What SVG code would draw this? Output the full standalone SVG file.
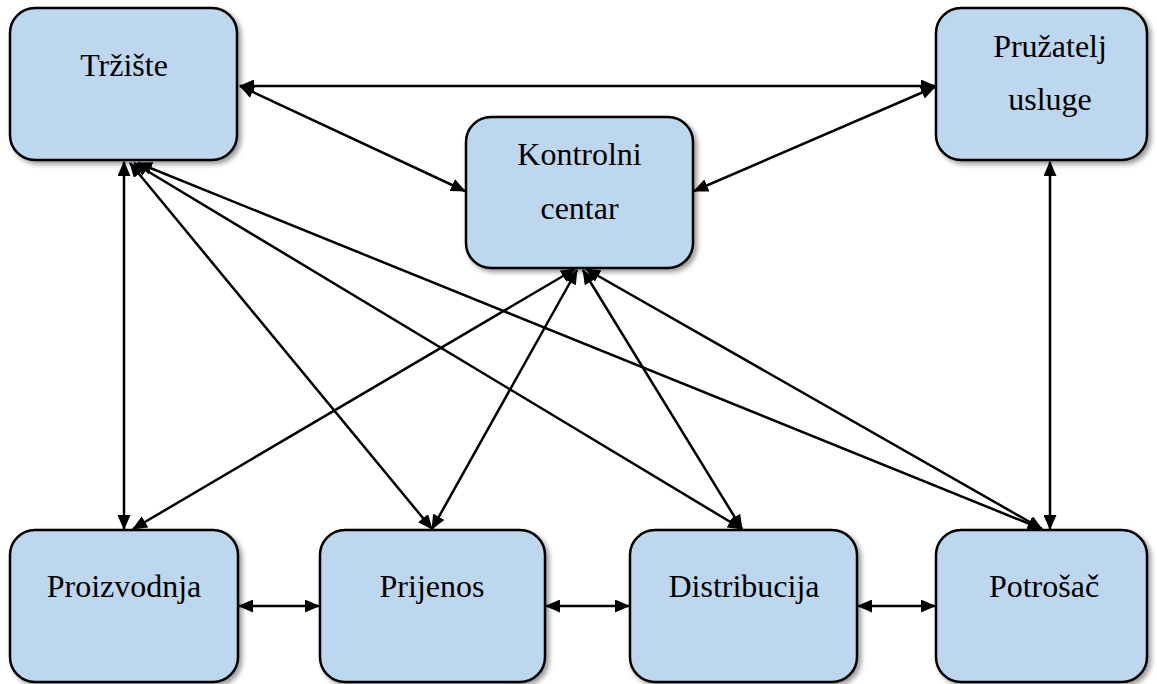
<svg xmlns="http://www.w3.org/2000/svg" width="1157" height="684" viewBox="0 0 1157 684">
  <style>
    .box { fill: #BDD7EE; stroke: #000; stroke-width: 2.5; filter: url(#shadow); }
    .lbl { font-family: "Liberation Serif", "Times New Roman", serif; font-size: 32px; fill: #000; text-anchor: middle; }
    .conn line { stroke: #000; stroke-width: 2.5; marker-start: url(#arr); marker-end: url(#arr); }
  </style>
  <defs>
    <filter id="shadow" x="-10%" y="-10%" width="130%" height="130%">
      <feDropShadow dx="3" dy="3" stdDeviation="2.5" flood-color="#000" flood-opacity="0.4"/>
    </filter>
    <marker id="arr" viewBox="0 0 15 13" refX="14" refY="6.5" markerWidth="15" markerHeight="13" markerUnits="userSpaceOnUse" orient="auto-start-reverse">
      <path d="M0,0 L15,6.5 L0,13 z" fill="#000"/>
    </marker>
  </defs>
  <rect width="1157" height="684" fill="#fff"/>

  <g id="connectors" class="conn">
    <line x1="240" y1="86" x2="935" y2="86"/>
    <line x1="240" y1="86" x2="465" y2="191"/>
    <line x1="935" y1="87" x2="694" y2="191"/>
    <line x1="124" y1="162" x2="124" y2="529"/>
    <line x1="130" y1="163" x2="432" y2="529"/>
    <line x1="134" y1="163" x2="742" y2="529"/>
    <line x1="138" y1="163" x2="1042" y2="529"/>
    <line x1="1050" y1="162" x2="1050" y2="529"/>
    <line x1="575" y1="269" x2="133" y2="529"/>
    <line x1="577" y1="270" x2="432" y2="529"/>
    <line x1="583" y1="270" x2="742" y2="529"/>
    <line x1="586" y1="269" x2="1042" y2="529"/>
    <line x1="239" y1="606" x2="319" y2="606"/>
    <line x1="546" y1="606" x2="629" y2="606"/>
    <line x1="858" y1="606" x2="935" y2="606"/>
  </g>

  <g id="trziste">
    <rect class="box" x="10" y="8" width="227" height="152" rx="25" ry="25"/>
    <text class="lbl" x="124" y="76">Tržište</text>
  </g>
  <g id="kontrolni-centar">
    <rect class="box" x="466" y="117" width="227" height="151" rx="25" ry="25"/>
    <text class="lbl" x="579.5" y="165">Kontrolni</text>
    <text class="lbl" x="579.5" y="219">centar</text>
  </g>
  <g id="pruzatelj-usluge">
    <rect class="box" x="936" y="8" width="211" height="152" rx="25" ry="25"/>
    <text class="lbl" x="1050" y="57">Pružatelj</text>
    <text class="lbl" x="1050" y="110">usluge</text>
  </g>
  <g id="proizvodnja">
    <rect class="box" x="10" y="530" width="228" height="152" rx="25" ry="25"/>
    <text class="lbl" x="124" y="597">Proizvodnja</text>
  </g>
  <g id="prijenos">
    <rect class="box" x="320" y="530" width="225" height="152" rx="25" ry="25"/>
    <text class="lbl" x="432" y="597">Prijenos</text>
  </g>
  <g id="distribucija">
    <rect class="box" x="630" y="530" width="227" height="152" rx="25" ry="25"/>
    <text class="lbl" x="744" y="597">Distribucija</text>
  </g>
  <g id="potrosac">
    <rect class="box" x="936" y="530" width="211" height="152" rx="25" ry="25"/>
    <text class="lbl" x="1044" y="597">Potrošač</text>
  </g>
</svg>
